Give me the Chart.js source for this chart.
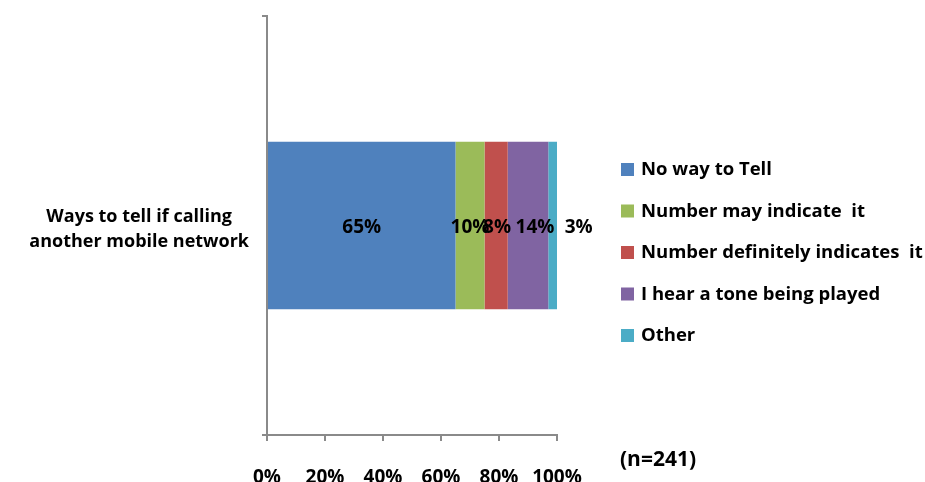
<!DOCTYPE html>
<html>
<head>
<meta charset="utf-8">
<script src="https://cdn.jsdelivr.net/npm/chart.js@4"></script>
<style>
  html, body { margin: 0; padding: 0; background: #fff; }
  #wrap { width: 925px; height: 482px; position: relative; }
</style>
</head>
<body>
<div id="wrap"><canvas id="waysChart"></canvas></div>
<script>
// data
const categories = [['Ways to tell if calling', 'another mobile network']];
const seriesNames = ['No way to Tell', 'Number may indicate  it', 'Number definitely indicates  it', 'I hear a tone being played', 'Other'];
const seriesValues = [65, 10, 8, 14, 3];
const seriesColors = ['#4F81BD', '#9BBB59', '#C0504D', '#8064A2', '#4BACC6'];
const xTicks = [0, 20, 40, 60, 80, 100];
const sampleNote = '(n=241)';

const FONT = '"Open Sans", "Noto Sans", sans-serif';
const AXIS_GREY = '#8a8a8a';

// labels on the segments; small nudges from the segment centre as in the original
const segmentLabels = {
    id: 'segmentLabels',
    afterDatasetsDraw(chart, args, opts) {
        const ctx = chart.ctx;
        const nudge = opts.nudge || [];
        ctx.save();
        ctx.font = 'bold 19px ' + FONT;
        ctx.fillStyle = '#000';
        ctx.textAlign = 'center';
        ctx.textBaseline = 'middle';
        chart.data.datasets.forEach((ds, i) => {
            const meta = chart.getDatasetMeta(i);
            meta.data.forEach((bar, j) => {
                const x = (bar.x + bar.base) / 2 + (nudge[i] || 0);
                ctx.fillText(ds.data[j] + '%', x, bar.y + 2);
            });
        });
        ctx.restore();
    }
};

// legend on the right plus the sample size note
const sideLegend = {
    id: 'sideLegend',
    afterDraw(chart) {
        const ctx = chart.ctx;
        const area = chart.chartArea;
        ctx.save();
        ctx.font = 'bold 18.5px ' + FONT;
        ctx.textBaseline = 'middle';
        ctx.textAlign = 'left';
        const left = area.right + 64;
        chart.data.datasets.forEach((ds, i) => {
            const y = 170 + i * 41.5;
            ctx.fillStyle = ds.backgroundColor;
            ctx.fillRect(left, y - 7, 13, 13);
            ctx.fillStyle = '#000';
            ctx.fillText(ds.label, left + 20, y);
        });
        ctx.font = 'bold 21px ' + FONT;
        ctx.fillText(sampleNote, left - 1, 460);
        ctx.restore();
    }
};

document.addEventListener('DOMContentLoaded', () => {
    const ctx = document.getElementById('waysChart').getContext('2d');
    new Chart(ctx, {
        type: 'bar',
        data: {
            labels: categories,
            datasets: seriesNames.map((name, i) => ({
                label: name,
                data: [seriesValues[i]],
                backgroundColor: seriesColors[i],
                borderWidth: 0,
                categoryPercentage: 1,
                barPercentage: 0.4
            }))
        },
        options: {
            indexAxis: 'y',
            responsive: true,
            maintainAspectRatio: false,
            animation: false,
            layout: { padding: { left: 0, right: 368, top: 16, bottom: 0 } },
            scales: {
                x: {
                    stacked: true,
                    min: 0,
                    max: 100,
                    afterBuildTicks: (scale) => { scale.ticks = xTicks.map(v => ({ value: v })); },
                    border: { color: AXIS_GREY, width: 2 },
                    grid: { drawOnChartArea: false, drawTicks: true, tickLength: 6, color: AXIS_GREY, lineWidth: 2 },
                    ticks: {
                        padding: 25,
                        color: '#000',
                        font: { family: FONT, size: 19, weight: 'bold' },
                        callback: (v) => v + '%'
                    },
                    afterFit: (scale) => { scale.height = 47; }
                },
                y: {
                    stacked: true,
                    border: { color: AXIS_GREY, width: 2 },
                    grid: { drawOnChartArea: false, drawTicks: true, tickLength: 5, color: AXIS_GREY, lineWidth: 2 },
                    ticks: {
                        crossAlign: 'center',
                        padding: 13,
                        labelOffset: 4,
                        color: '#000',
                        font: { family: FONT, size: 18, weight: 'bold', lineHeight: 1.4 }
                    },
                    afterFit: (scale) => {
                        scale.width = 267;
                        scale.paddingTop = 0;
                        scale.paddingBottom = 0;
                    }
                }
            },
            plugins: {
                legend: { display: false },
                tooltip: { enabled: false },
                segmentLabels: { nudge: [0, 0, 1, 7, 26] }
            }
        },
        plugins: [segmentLabels, sideLegend]
    });
});
</script>
</body>
</html>
